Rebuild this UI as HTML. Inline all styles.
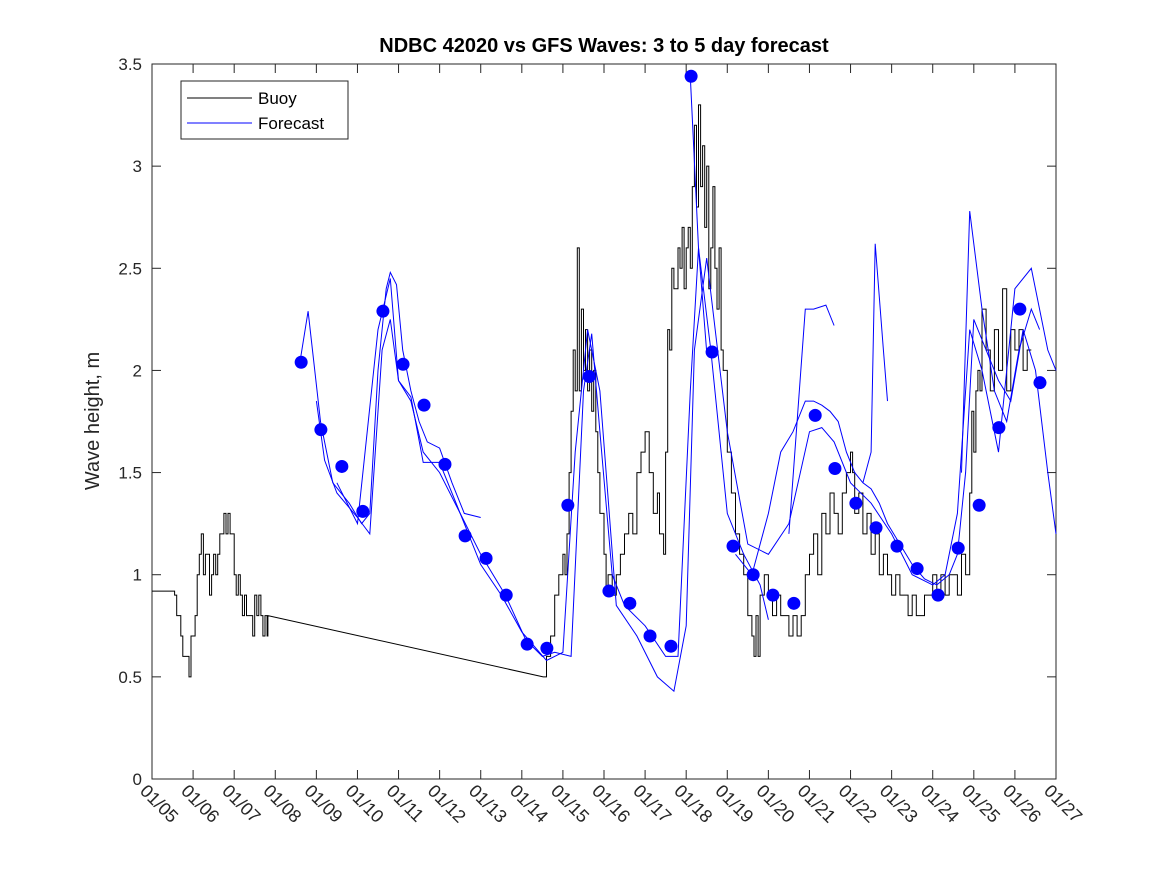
<!DOCTYPE html>
<html><head><meta charset="utf-8"><style>
body{margin:0;background:#fff;}
svg{display:block;font-family:"Liberation Sans",sans-serif;}
</style></head><body>
<svg id="chart" width="1167" height="875" viewBox="0 0 1167 875">
<rect x="0" y="0" width="1167" height="875" fill="#fff"/>
<text x="604" y="52" text-anchor="middle" font-size="20" font-weight="bold">NDBC 42020 vs GFS Waves: 3 to 5 day forecast</text>
<text transform="translate(99,421) rotate(-90)" text-anchor="middle" font-size="20" fill="#262626">Wave height, m</text>
<g id="axes"></g>
<g id="series"></g>
<g id="legend">
<rect x="181" y="81" width="167" height="58" fill="#fff" stroke="#262626" stroke-width="1"/>
<line x1="187" y1="98" x2="252" y2="98" stroke="#000"/>
<text x="258" y="104" font-size="17" fill="#000">Buoy</text>
<line x1="187" y1="123" x2="252" y2="123" stroke="#00f"/>
<text x="258" y="129" font-size="17" fill="#000">Forecast</text>
</g>
</svg>
<script>
const xTickLabels=["01/05","01/06","01/07","01/08","01/09","01/10","01/11","01/12","01/13","01/14","01/15","01/16","01/17","01/18","01/19","01/20","01/21","01/22","01/23","01/24","01/25","01/26","01/27"];
const yTicks=[0,0.5,1,1.5,2,2.5,3,3.5];
const yTickLabels=["0","0.5","1","1.5","2","2.5","3","3.5"];
const buoyDays=[5.0,5.55,5.6,5.7,5.75,5.85,5.9,5.95,6.05,6.1,6.15,6.2,6.25,6.3,6.35,6.4,6.45,6.5,6.55,6.6,6.65,6.7,6.75,6.8,6.85,6.9,6.95,7.0,7.05,7.1,7.15,7.2,7.25,7.3,7.4,7.45,7.5,7.55,7.6,7.65,7.7,7.75,7.8,7.82,14.52,14.6,14.7,14.8,14.9,15.0,15.05,15.1,15.15,15.2,15.25,15.3,15.35,15.4,15.45,15.5,15.55,15.6,15.65,15.7,15.75,15.8,15.85,15.9,16.0,16.05,16.1,16.2,16.3,16.4,16.5,16.6,16.7,16.8,16.9,17.0,17.1,17.2,17.3,17.35,17.45,17.5,17.55,17.6,17.65,17.7,17.8,17.85,17.9,17.95,18.0,18.05,18.1,18.15,18.2,18.25,18.3,18.35,18.4,18.45,18.5,18.55,18.6,18.65,18.7,18.75,18.8,18.85,18.9,19.0,19.1,19.2,19.3,19.4,19.5,19.6,19.65,19.7,19.75,19.8,19.9,20.0,20.1,20.2,20.3,20.4,20.5,20.6,20.7,20.8,20.9,21.0,21.1,21.2,21.3,21.4,21.5,21.6,21.7,21.8,21.9,22.0,22.05,22.1,22.2,22.3,22.4,22.5,22.6,22.7,22.8,22.9,23.0,23.1,23.2,23.3,23.4,23.5,23.6,23.7,23.8,23.9,24.0,24.1,24.2,24.3,24.4,24.5,24.6,24.7,24.8,24.9,24.95,25.0,25.05,25.1,25.15,25.2,25.3,25.4,25.5,25.6,25.7,25.8,25.9,26.0,26.1,26.2,26.3,26.4,26.5,26.6];
const buoyVals=[0.92,0.9,0.8,0.7,0.6,0.6,0.5,0.7,0.8,1.0,1.1,1.2,1.0,1.1,1.1,0.9,1.0,1.1,1.0,1.1,1.2,1.2,1.3,1.2,1.3,1.2,1.2,1.0,0.9,1.0,0.9,0.8,0.9,0.8,0.8,0.7,0.9,0.8,0.9,0.8,0.7,0.8,0.7,0.8,0.5,0.6,0.7,0.9,1.0,1.1,1.0,1.2,1.5,1.8,2.1,1.9,2.6,1.9,2.3,2.0,2.2,1.9,2.1,1.8,2.0,1.7,1.5,1.3,1.1,0.9,1.0,0.9,1.0,1.1,1.2,1.3,1.2,1.5,1.6,1.7,1.5,1.3,1.4,1.2,1.1,1.6,2.2,2.1,2.5,2.4,2.6,2.5,2.7,2.4,2.6,2.7,2.5,2.9,3.2,2.8,3.3,2.9,3.1,2.7,3.0,2.4,2.6,2.9,2.5,2.3,2.6,2.1,2.0,1.6,1.4,1.2,1.1,1.0,0.8,0.7,0.6,0.8,0.6,0.9,1.0,0.9,0.8,0.9,0.8,0.8,0.7,0.8,0.7,0.8,1.0,1.1,1.2,1.0,1.3,1.2,1.4,1.3,1.2,1.4,1.5,1.6,1.5,1.3,1.4,1.2,1.3,1.1,1.2,1.0,1.1,1.0,0.9,1.0,0.9,0.9,0.8,0.9,0.8,0.8,0.9,0.9,1.0,0.9,1.0,0.9,1.0,1.0,0.9,1.1,1.0,1.4,1.8,1.6,1.9,2.0,1.9,2.3,2.1,1.9,2.2,2.0,2.4,1.9,2.2,2.1,2.2,2.0,2.1];
const fc1Days=[8.6,8.8,9.1,9.4,9.8,10.1,10.3,10.5,10.7,10.8,10.95,11.1,11.3,11.5,11.7,12.0,12.3,12.6,13.0];
const fc1Vals=[2.04,2.29,1.75,1.45,1.35,1.25,1.3,2.0,2.4,2.48,2.42,2.1,1.9,1.75,1.65,1.62,1.45,1.3,1.28];
const fc2Days=[9.0,9.2,9.5,10.0,10.3,10.6,10.8,11.0,11.3,11.6,12.0,12.5,13.0,13.6,14.1,14.5,14.8,15.2,15.5,15.7,15.9,16.2,16.5,17.0,17.5,17.8,18.1,18.3,18.6,19.0,19.4,19.8,20.0];
const fc2Vals=[1.85,1.56,1.4,1.28,1.2,2.1,2.25,1.95,1.87,1.55,1.55,1.3,1.1,0.9,0.68,0.6,0.62,0.6,1.9,2.18,1.7,1.0,0.85,0.75,0.6,0.6,1.9,2.6,2.1,1.3,1.1,0.95,0.78];
const fc3Days=[9.5,10.0,10.5,10.8,11.0,11.3,11.6,12.0,12.5,13.0,13.5,14.0,14.6,15.0,15.3,15.6,15.9,16.3,16.8,17.3,17.7,18.0,18.2,18.5,19.0,19.5,20.0,20.5,21.0,21.3,21.6,22.0,22.5,23.0,23.5,24.0,24.3,24.6,24.9,25.2,25.6,26.0,26.4,26.8,27.0];
const fc3Vals=[1.45,1.25,2.2,2.45,1.95,1.85,1.6,1.5,1.3,1.05,0.9,0.72,0.58,0.62,1.6,2.2,1.9,0.85,0.7,0.5,0.43,0.75,2.1,2.55,1.7,1.15,1.1,1.25,1.7,1.72,1.65,1.45,1.35,1.2,1.0,0.95,1.0,1.3,2.2,2.0,1.6,2.4,2.5,2.1,2.0];
const fc4Days=[19.2,19.6,20.0,20.3,20.6,20.9,21.1,21.3,21.5,21.7,21.9,22.1,22.3,22.5,22.7,22.9,23.2,23.5,23.8,24.1,24.4,24.6,24.8,25.0,25.3,25.6,25.9,26.2,26.5,26.8,27.0];
const fc4Vals=[1.1,1.0,1.3,1.6,1.7,1.85,1.85,1.83,1.8,1.75,1.6,1.5,1.45,1.42,1.35,1.25,1.15,1.05,0.98,0.95,1.0,1.1,1.5,2.25,2.1,1.95,1.85,2.2,2.0,1.5,1.2];
const fc5aDays=[20.5,20.9,21.1,21.4,21.6];
const fc5aVals=[1.2,2.3,2.3,2.32,2.22];
const fc5bDays=[22.3,22.5,22.6,22.8,22.9];
const fc5bVals=[1.45,1.6,2.62,2.1,1.85];
const fc5cDays=[24.7,24.9,25.2,25.5,25.8,26.1,26.4,26.6];
const fc5cVals=[1.5,2.78,2.3,1.9,1.75,2.1,2.3,2.2];
const dotDays=[8.63,9.11,9.62,10.13,10.62,11.11,11.62,12.13,12.62,13.13,13.62,14.13,14.61,15.12,15.64,16.12,16.63,17.12,17.63,18.12,18.63,19.14,19.63,20.11,20.62,21.14,21.62,22.13,22.62,23.13,23.62,24.13,24.62,25.13,25.61,26.12,26.61];
const dotVals=[2.04,1.71,1.53,1.31,2.29,2.03,1.83,1.54,1.19,1.08,0.90,0.66,0.64,1.34,1.97,0.92,0.86,0.70,0.65,3.44,2.09,1.14,1.00,0.90,0.86,1.78,1.52,1.35,1.23,1.14,1.03,0.90,1.13,1.34,1.72,2.30,1.94];

const NS="http://www.w3.org/2000/svg";
const X0=152,X1=1056,Y0=779,Y1=64;
function xs(d){return X0+(d-5)/22*(X1-X0);}
function ys(v){return Y0-v/3.5*(Y0-Y1);}
function mk(tag,attrs,parent){const e=document.createElementNS(NS,tag);for(const k in attrs)e.setAttribute(k,attrs[k]);parent.appendChild(e);return e;}
const axes=document.getElementById('axes'),ser=document.getElementById('series');
const frame=mk('rect',{x:X0,y:Y1,width:X1-X0,height:Y0-Y1,fill:'none',stroke:'#262626','stroke-width':1},axes);


yTicks.forEach((v,i)=>{
  const y=ys(v);
  mk('line',{x1:X0,y1:y,x2:X0+9,y2:y,stroke:'#262626'},axes);
  mk('line',{x1:X1,y1:y,x2:X1-9,y2:y,stroke:'#262626'},axes);
  const t=mk('text',{x:X0-10,y:y+6,'text-anchor':'end','font-size':17,fill:'#262626'},axes);
  t.textContent=yTickLabels[i];
  
  
});
xTickLabels.forEach((lab,i)=>{
  const x=xs(5+i);
  mk('line',{x1:x,y1:Y0,x2:x,y2:Y0-9,stroke:'#262626'},axes);
  mk('line',{x1:x,y1:Y1,x2:x,y2:Y1+9,stroke:'#262626'},axes);
  const t=mk('text',{transform:`translate(${x-13},${Y0+13}) rotate(45)`,'font-size':18,fill:'#262626'},axes);
  t.textContent=lab;
  
  
});
function line(days,vals,color,name){
  const p=days.map((d,i)=>xs(d).toFixed(1)+','+ys(vals[i]).toFixed(1)).join(' ');
  const e=mk('polyline',{points:p,fill:'none',stroke:color,'stroke-width':1},ser);
  
  
}
(function(){
  const d=[],v=[];
  buoyDays.forEach((x,i)=>{if(i>0&&x-buoyDays[i-1]<1){d.push(x);v.push(buoyVals[i-1]);}d.push(x);v.push(buoyVals[i]);});
  line(d,v,'#000','buoy-line');
})();
line(fc1Days,fc1Vals,'#00f','forecast-line-1');
line(fc2Days,fc2Vals,'#00f','forecast-line-2');
line(fc3Days,fc3Vals,'#00f','forecast-line-3');
line(fc4Days,fc4Vals,'#00f','forecast-line-4');
line(fc5aDays,fc5aVals,'#00f','forecast-line-5a');
line(fc5bDays,fc5bVals,'#00f','forecast-line-5b');
line(fc5cDays,fc5cVals,'#00f','forecast-line-5c');
line([18.1,18.3,18.5],[3.44,2.6,2.09],'#00f','forecast-line-peak');
dotDays.forEach((d,i)=>{
  const c=mk('circle',{cx:xs(d),cy:ys(dotVals[i]),r:6.5,fill:'#00f'},ser);
  
  
});
</script>
</body></html>
